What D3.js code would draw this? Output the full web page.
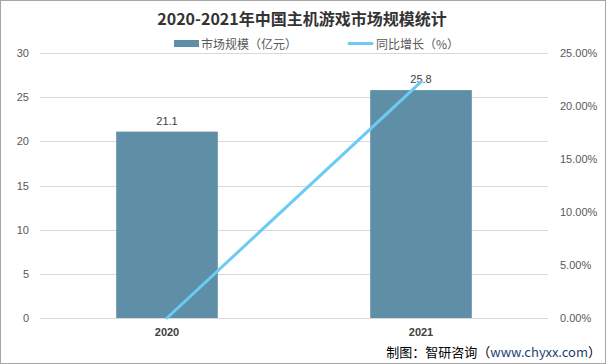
<!DOCTYPE html>
<html><head><meta charset="utf-8">
<script src="https://cdn.jsdelivr.net/npm/d3@7/dist/d3.min.js"></script>
<style>body{margin:0;background:#fff}svg{display:block}text{font-family:"Noto Sans CJK SC","Noto Sans",sans-serif}</style>
</head><body><svg id="c" width="606" height="364"></svg>
<script>
const categories = ["2020", "2021"];
const marketSize = [21.1, 25.8];
const growth = [0, 22.27];
const leftTicks = [0, 5, 10, 15, 20, 25, 30];
const rightTicks = [0, 5, 10, 15, 20, 25];
const title = "2020-2021年中国主机游戏市场规模统计";
const legendLabels = ["市场规模（亿元）", "同比增长（%）"];

const svg = d3.select("#c");
const W = 606, H = 364;
const m = {l: 40, r: 58, t: 53, b: 46};
const x = d3.scaleBand().domain(categories).range([m.l, W - m.r]).paddingInner(0.6).paddingOuter(0.3);
const xc = d => x(d) + x.bandwidth() / 2;
const y = d3.scaleLinear().domain([0, 30]).range([H - m.b, m.t]);
const y2 = d3.scaleLinear().domain([0, 25]).range([H - m.b, m.t]);

svg.append("rect").attr("x", 0.5).attr("y", 0.5).attr("width", W - 1).attr("height", H - 1)
  .attr("fill", "#fff").attr("stroke", "#a6a6a6");

// gridlines
svg.append("g").selectAll("line").data(leftTicks).join("line")
  .attr("x1", m.l).attr("x2", W - m.r).attr("y1", d => Math.round(y(d)) + 0.5).attr("y2", d => Math.round(y(d)) + 0.5)
  .attr("stroke", "#d9d9d9");

// left axis
const la = svg.append("g").attr("transform", `translate(${m.l},0)`)
  .call(d3.axisLeft(y).tickValues(leftTicks).tickSize(0).tickPadding(11));
la.select(".domain").remove();
la.selectAll("text").attr("fill", "#595959").style("font-size", "11px").style("font-family", "'Liberation Sans',Arial,sans-serif");

// right axis
const ra = svg.append("g").attr("transform", `translate(${W - m.r},0)`)
  .call(d3.axisRight(y2).tickValues(rightTicks).tickSize(0).tickPadding(12).tickFormat(d => d.toFixed(2) + "%"));
ra.select(".domain").remove();
ra.selectAll("text").attr("fill", "#595959").style("font-size", "11px").style("font-family", "'Liberation Sans',Arial,sans-serif");

// x axis
const xa = svg.append("g").attr("transform", `translate(0,${H - m.b})`)
  .call(d3.axisBottom(x).tickSize(0).tickPadding(10));
xa.select(".domain").remove();
xa.selectAll("text").attr("fill", "#404040").style("font-size", "11px").style("font-weight", "bold").style("font-family", "'Liberation Sans',Arial,sans-serif");

// bars
svg.append("g").selectAll("rect").data(marketSize).join("rect")
  .attr("x", (d, i) => x(categories[i])).attr("width", x.bandwidth())
  .attr("y", d => y(d)).attr("height", d => y(0) - y(d))
  .attr("fill", "#5E8FA6");

// bar labels
svg.append("g").selectAll("text").data(marketSize).join("text")
  .attr("x", (d, i) => xc(categories[i])).attr("y", d => y(d) - 7)
  .attr("text-anchor", "middle").attr("fill", "#404040")
  .style("font-size", "11px").style("font-family", "'Liberation Sans',Arial,sans-serif")
  .text(d => d.toFixed(1));

// growth line
const line = d3.line().x((d, i) => xc(categories[i])).y(d => y2(d));
svg.append("path").datum(growth).attr("d", line)
  .attr("fill", "none").attr("stroke", "#6CCBF5").attr("stroke-width", 3).attr("stroke-linecap", "round");

// title
svg.append("text").attr("x", 302).attr("y", 25).attr("text-anchor", "middle")
  .attr("fill", "#333").style("font-size", "16px").style("font-weight", "bold").text(title);

// legend
const lg = svg.append("g");
lg.append("rect").attr("x", 174).attr("y", 40).attr("width", 25).attr("height", 7).attr("fill", "#5E8FA6");
lg.append("text").attr("x", 201).attr("y", 48.5).attr("fill", "#595959").style("font-size", "12px").text(legendLabels[0]);
lg.append("line").attr("x1", 349).attr("x2", 372).attr("y1", 43.5).attr("y2", 43.5)
  .attr("stroke", "#6CCBF5").attr("stroke-width", 3).attr("stroke-linecap", "round");
lg.append("text").attr("x", 376).attr("y", 48.5).attr("fill", "#595959").style("font-size", "12px").text(legendLabels[1]);

// source
const src = svg.append("text").attr("x", 601).attr("y", 357).attr("text-anchor", "end")
  .attr("fill", "#000").style("font-size", "13px");
src.append("tspan").text("制图：智研咨询（");
src.append("tspan").attr("fill", "#1F3F77").text("www.chyxx.com");
src.append("tspan").text("）");
</script></body></html>
